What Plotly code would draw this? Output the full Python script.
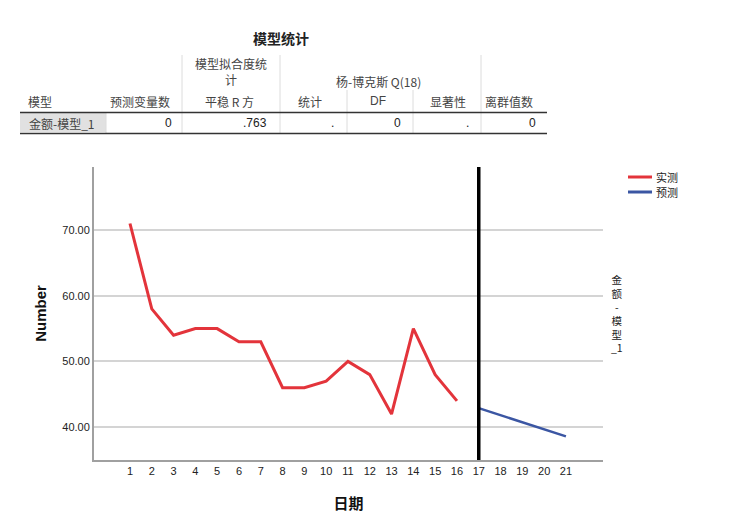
import plotly.graph_objects as go

# ---- data ----
days_actual = list(range(1, 17))
actual = [71, 58, 54, 55, 55, 53, 53, 46, 46, 47, 50, 48, 42, 55, 48, 44]
days_pred = [17, 18, 19, 20, 21]
predicted = [42.9, 41.8, 40.7, 39.7, 38.6]
x_ticks = list(range(1, 22))
y_ticks = [40, 50, 60, 70]
forecast_start = 17
series_names = ["实测", "预测"]
series_colors = ["#e3343b", "#3b56a3"]
model_label = ["金", "额", "-", "模", "型", "_1"]

table_title = "模型统计"
table_row = ["金额-模型_1", "0", ".763", ".", "0", ".", "0"]

W, H = 754, 529
L, R, T, B = 94, 603, 167, 460


def px(x):
    return (x - L) / (R - L)


def py(y):
    return (B - y) / (B - T)


FONT = "Liberation Sans, Noto Sans CJK SC, sans-serif"
CJK = "Noto Sans CJK SC, Liberation Sans, sans-serif"

fig = go.Figure()
fig.add_trace(go.Scatter(x=days_actual, y=actual, mode="lines", name=series_names[0],
                         line=dict(color=series_colors[0], width=3), showlegend=False))
fig.add_trace(go.Scatter(x=days_pred, y=predicted, mode="lines", name=series_names[1],
                         line=dict(color=series_colors[1], width=2.5), showlegend=False))

shapes = []
annotations = []

# forecast divider line
shapes.append(dict(type="line", xref="x", yref="paper", x0=forecast_start, x1=forecast_start,
                   y0=0, y1=1, line=dict(color="black", width=3.5), layer="above"))


def ann(text, x, y, xanchor="center", size=12, color="#444", family=CJK, angle=0):
    annotations.append(dict(text=text, xref="paper", yref="paper", x=px(x), y=py(y),
                            xanchor=xanchor, yanchor="middle", showarrow=False, borderpad=0,
                            textangle=angle, font=dict(size=size, color=color, family=family)))


def hline(x0, x1, y, color, width):
    shapes.append(dict(type="line", xref="paper", yref="paper", x0=px(x0), x1=px(x1),
                       y0=py(y), y1=py(y), line=dict(color=color, width=width)))


def vline(x, y0, y1, color="#dcdcdc", width=1):
    shapes.append(dict(type="line", xref="paper", yref="paper", x0=px(x), x1=px(x),
                       y0=py(y0), y1=py(y1), line=dict(color=color, width=width)))


# ---- table ----
shapes.append(dict(type="rect", xref="paper", yref="paper", x0=px(20), x1=px(106),
                   y0=py(113), y1=py(132), fillcolor="#e1e1e1", line=dict(width=0), layer="below"))
vline(182, 55, 133)
vline(280, 55, 133)
vline(481, 55, 133)
vline(347, 90, 133)
vline(413, 90, 133)
vline(106, 113, 133)
hline(20, 547, 112.5, "#333333", 1.5)
hline(20, 547, 133.5, "#333333", 1.5)

annotations.append(dict(text="<b>" + table_title + "</b>", xref="paper", yref="paper",
                        x=px(281), y=py(38), xanchor="center", yanchor="middle", showarrow=False,
                        font=dict(size=14, color="#222", family=CJK)))
ann("模型拟合度统<br>计", 231, 71.5)
ann("杨-博克斯 Q(18)", 378, 82)
ann("模型", 27, 101, xanchor="left")
ann("预测变量数", 171, 101, xanchor="right")
ann("平稳 R 方", 229, 101)
ann("统计", 310, 101)
ann("DF", 378, 101, family=FONT)
ann("显著性", 448, 101)
ann("离群值数", 509, 101)

ann(table_row[0], 28, 123, xanchor="left")
ann(table_row[1], 173, 123, xanchor="right", family=FONT, color="#222")
ann(table_row[2], 268, 123, xanchor="right", family=FONT, color="#222")
ann(table_row[3], 335, 123, xanchor="right", family=FONT, color="#222")
ann(table_row[4], 402, 123, xanchor="right", family=FONT, color="#222")
ann(table_row[5], 470, 123, xanchor="right", family=FONT, color="#222")
ann(table_row[6], 537, 123, xanchor="right", family=FONT, color="#222")

# ---- legend (drawn manually) ----
for i, (nm, col) in enumerate(zip(series_names, series_colors)):
    yy = 177 + 15 * i
    hline(628, 652, yy, col, 3)
    ann(nm, 655, yy, xanchor="left", color="#222", size=11)

# ---- right-side vertical label (stacked characters) ----
ann("<br>".join(model_label), 617, 313, color="#222", size=10.5)

fig.update_layout(
    width=W, height=H,
    margin=dict(l=L, r=W - R, t=T, b=H - B, pad=0),
    paper_bgcolor="white", plot_bgcolor="white",
    shapes=shapes, annotations=annotations,
    showlegend=False,
    xaxis=dict(range=[-0.65, 22.7], tickvals=x_ticks, showgrid=False, zeroline=False,
               showline=True, linecolor="#a0a0a0", linewidth=2, ticks="",
               tickfont=dict(size=11, family=FONT, color="#222"),
               title=dict(text="<b>日期</b>", standoff=22,
                          font=dict(size=15, family=CJK, color="#111"))),
    yaxis=dict(range=[35.0, 79.6], tickvals=y_ticks, tickformat=".2f", showgrid=True,
               gridcolor="#d4d4d4", gridwidth=1.5, zeroline=False,
               showline=True, linecolor="#a0a0a0", linewidth=2, ticks="",
               tickfont=dict(size=11, family=FONT, color="#222"),
               title=dict(text="<b>Number</b>", standoff=12,
                          font=dict(size=15, family=FONT, color="#111"))),
)

fig.write_html("out.html")
